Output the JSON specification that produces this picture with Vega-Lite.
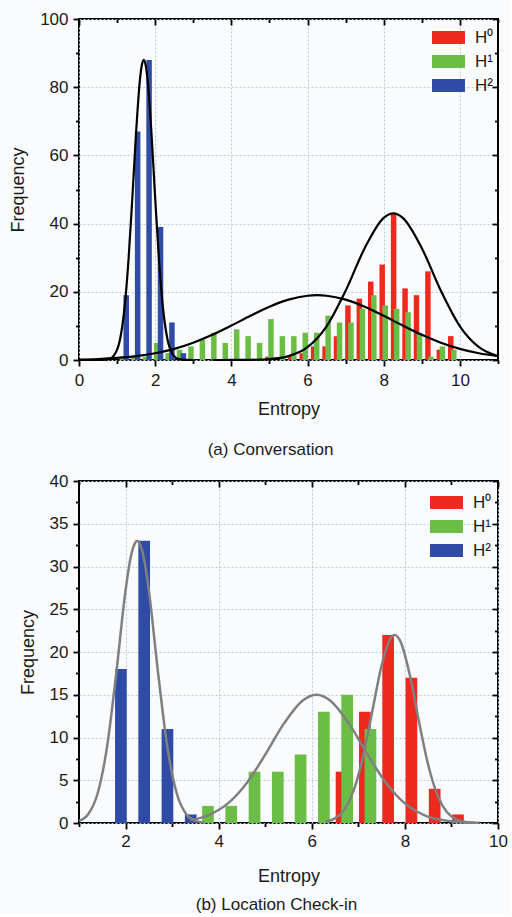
{
  "$schema": "https://vega.github.io/schema/vega-lite/v6.json",
  "background": "#fafbfd",
  "padding": {"left": 8, "top": 9, "right": 0, "bottom": 0},
  "bounds": "flush",
  "spacing": 121,
  "config": {
    "font": "Liberation Sans",
    "view": {"stroke": "#000000", "strokeWidth": 2},
    "scale": {"continuousPadding": 0},
    "axis": {
      "labelFont": "Liberation Sans", "labelFontSize": 17, "labelColor": "#1a1a1a", "labelFlush": false,
      "titleFont": "Liberation Sans", "titleFontSize": 18, "titleFontWeight": "normal", "titleColor": "#1a1a1a",
      "domain": false, "tickColor": "#000000", "tickWidth": 1.8, "tickSize": 6, "minExtent": 0,
      "gridColor": "#b9c9dc", "gridDash": [2, 2], "gridWidth": 1, "labelPadding": 5
    },
    "title": {"font": "Liberation Sans", "fontSize": 17, "fontWeight": "normal", "color": "#1a1a1a"},
    "legend": {
      "orient": "none", "labelFont": "Liberation Sans", "labelFontSize": 17, "labelColor": "#1a1a1a",
      "symbolType": "M-2,-0.8H2V0.8H-2Z", "symbolSize": 272, "symbolStrokeWidth": 0, "symbolOpacity": 1,
      "labelOffset": 18, "rowPadding": 6, "padding": 0, "title": null
    }
  },
  "datasets": {
    "top_bars": [
      {"series": "H⁰", "entropy": 4.96, "frequency": 1},
      {"series": "H⁰", "entropy": 5.56, "frequency": 1},
      {"series": "H⁰", "entropy": 5.86, "frequency": 2},
      {"series": "H⁰", "entropy": 6.16, "frequency": 4},
      {"series": "H⁰", "entropy": 6.46, "frequency": 4},
      {"series": "H⁰", "entropy": 6.76, "frequency": 7},
      {"series": "H⁰", "entropy": 7.06, "frequency": 16},
      {"series": "H⁰", "entropy": 7.36, "frequency": 18},
      {"series": "H⁰", "entropy": 7.66, "frequency": 23},
      {"series": "H⁰", "entropy": 7.96, "frequency": 28},
      {"series": "H⁰", "entropy": 8.26, "frequency": 43},
      {"series": "H⁰", "entropy": 8.56, "frequency": 21},
      {"series": "H⁰", "entropy": 8.86, "frequency": 19},
      {"series": "H⁰", "entropy": 9.16, "frequency": 26},
      {"series": "H⁰", "entropy": 9.46, "frequency": 3},
      {"series": "H⁰", "entropy": 9.76, "frequency": 7},
      {"series": "H¹", "entropy": 1.14, "frequency": 1},
      {"series": "H¹", "entropy": 1.44, "frequency": 1},
      {"series": "H¹", "entropy": 1.74, "frequency": 1},
      {"series": "H¹", "entropy": 2.04, "frequency": 5},
      {"series": "H¹", "entropy": 2.34, "frequency": 2},
      {"series": "H¹", "entropy": 2.64, "frequency": 3},
      {"series": "H¹", "entropy": 2.94, "frequency": 4},
      {"series": "H¹", "entropy": 3.24, "frequency": 6},
      {"series": "H¹", "entropy": 3.54, "frequency": 8},
      {"series": "H¹", "entropy": 3.84, "frequency": 5},
      {"series": "H¹", "entropy": 4.14, "frequency": 9},
      {"series": "H¹", "entropy": 4.44, "frequency": 7},
      {"series": "H¹", "entropy": 4.74, "frequency": 5},
      {"series": "H¹", "entropy": 5.04, "frequency": 12},
      {"series": "H¹", "entropy": 5.34, "frequency": 7},
      {"series": "H¹", "entropy": 5.64, "frequency": 7},
      {"series": "H¹", "entropy": 5.94, "frequency": 8},
      {"series": "H¹", "entropy": 6.24, "frequency": 8},
      {"series": "H¹", "entropy": 6.54, "frequency": 13},
      {"series": "H¹", "entropy": 6.84, "frequency": 11},
      {"series": "H¹", "entropy": 7.14, "frequency": 11},
      {"series": "H¹", "entropy": 7.44, "frequency": 15},
      {"series": "H¹", "entropy": 7.74, "frequency": 19},
      {"series": "H¹", "entropy": 8.04, "frequency": 16},
      {"series": "H¹", "entropy": 8.34, "frequency": 15},
      {"series": "H¹", "entropy": 8.64, "frequency": 14},
      {"series": "H¹", "entropy": 8.94, "frequency": 8},
      {"series": "H¹", "entropy": 9.24, "frequency": 1},
      {"series": "H¹", "entropy": 9.54, "frequency": 4},
      {"series": "H¹", "entropy": 9.84, "frequency": 3},
      {"series": "H²", "entropy": 1.24, "frequency": 19},
      {"series": "H²", "entropy": 1.54, "frequency": 67},
      {"series": "H²", "entropy": 1.84, "frequency": 88},
      {"series": "H²", "entropy": 2.14, "frequency": 39},
      {"series": "H²", "entropy": 2.44, "frequency": 11},
      {"series": "H²", "entropy": 2.74, "frequency": 2}
    ],
    "top_fit": [
      {"series": "H²", "entropy": 0, "frequency": 0},
      {"series": "H²", "entropy": 0.6, "frequency": 0.02},
      {"series": "H²", "entropy": 0.8, "frequency": 0.34},
      {"series": "H²", "entropy": 1.0, "frequency": 3.05},
      {"series": "H²", "entropy": 1.1, "frequency": 7.4},
      {"series": "H²", "entropy": 1.2, "frequency": 15.8},
      {"series": "H²", "entropy": 1.3, "frequency": 29.4},
      {"series": "H²", "entropy": 1.4, "frequency": 47.5},
      {"series": "H²", "entropy": 1.5, "frequency": 66.9},
      {"series": "H²", "entropy": 1.6, "frequency": 82.2},
      {"series": "H²", "entropy": 1.65, "frequency": 86.5},
      {"series": "H²", "entropy": 1.7, "frequency": 88},
      {"series": "H²", "entropy": 1.75, "frequency": 86.5},
      {"series": "H²", "entropy": 1.8, "frequency": 82.2},
      {"series": "H²", "entropy": 1.9, "frequency": 66.9},
      {"series": "H²", "entropy": 2.0, "frequency": 47.5},
      {"series": "H²", "entropy": 2.1, "frequency": 29.4},
      {"series": "H²", "entropy": 2.2, "frequency": 15.8},
      {"series": "H²", "entropy": 2.3, "frequency": 7.4},
      {"series": "H²", "entropy": 2.4, "frequency": 3.05},
      {"series": "H²", "entropy": 2.6, "frequency": 0.34},
      {"series": "H²", "entropy": 2.8, "frequency": 0.02},
      {"series": "H²", "entropy": 3.0, "frequency": 0},
      {"series": "H¹", "entropy": 0, "frequency": 0.14},
      {"series": "H¹", "entropy": 0.5, "frequency": 0.3},
      {"series": "H¹", "entropy": 1.0, "frequency": 0.61},
      {"series": "H¹", "entropy": 1.5, "frequency": 1.13},
      {"series": "H¹", "entropy": 2.0, "frequency": 1.99},
      {"series": "H¹", "entropy": 2.5, "frequency": 3.28},
      {"series": "H¹", "entropy": 3.0, "frequency": 5.08},
      {"series": "H¹", "entropy": 3.5, "frequency": 7.38},
      {"series": "H¹", "entropy": 4.0, "frequency": 10.09},
      {"series": "H¹", "entropy": 4.5, "frequency": 12.96},
      {"series": "H¹", "entropy": 5.0, "frequency": 15.63},
      {"series": "H¹", "entropy": 5.5, "frequency": 17.71},
      {"series": "H¹", "entropy": 6.0, "frequency": 18.85},
      {"series": "H¹", "entropy": 6.25, "frequency": 19},
      {"series": "H¹", "entropy": 6.5, "frequency": 18.85},
      {"series": "H¹", "entropy": 7.0, "frequency": 17.71},
      {"series": "H¹", "entropy": 7.5, "frequency": 15.63},
      {"series": "H¹", "entropy": 8.0, "frequency": 12.96},
      {"series": "H¹", "entropy": 8.5, "frequency": 10.09},
      {"series": "H¹", "entropy": 9.0, "frequency": 7.38},
      {"series": "H¹", "entropy": 9.5, "frequency": 5.08},
      {"series": "H¹", "entropy": 10.0, "frequency": 3.28},
      {"series": "H¹", "entropy": 10.5, "frequency": 1.99},
      {"series": "H¹", "entropy": 11.0, "frequency": 1.13},
      {"series": "H⁰", "entropy": 3.5, "frequency": 0},
      {"series": "H⁰", "entropy": 4.0, "frequency": 0.01},
      {"series": "H⁰", "entropy": 4.5, "frequency": 0.05},
      {"series": "H⁰", "entropy": 5.0, "frequency": 0.27},
      {"series": "H⁰", "entropy": 5.5, "frequency": 1.14},
      {"series": "H⁰", "entropy": 6.0, "frequency": 3.77},
      {"series": "H⁰", "entropy": 6.5, "frequency": 9.87},
      {"series": "H⁰", "entropy": 7.0, "frequency": 20.3},
      {"series": "H⁰", "entropy": 7.5, "frequency": 32.8},
      {"series": "H⁰", "entropy": 8.0, "frequency": 41.7},
      {"series": "H⁰", "entropy": 8.25, "frequency": 43},
      {"series": "H⁰", "entropy": 8.5, "frequency": 41.7},
      {"series": "H⁰", "entropy": 9.0, "frequency": 32.8},
      {"series": "H⁰", "entropy": 9.5, "frequency": 20.3},
      {"series": "H⁰", "entropy": 10.0, "frequency": 9.87},
      {"series": "H⁰", "entropy": 10.5, "frequency": 3.77},
      {"series": "H⁰", "entropy": 11.0, "frequency": 1.14}
    ],
    "bottom_bars": [
      {"series": "H⁰", "entropy": 6.64, "frequency": 6},
      {"series": "H⁰", "entropy": 7.14, "frequency": 13},
      {"series": "H⁰", "entropy": 7.64, "frequency": 22},
      {"series": "H⁰", "entropy": 8.14, "frequency": 17},
      {"series": "H⁰", "entropy": 8.64, "frequency": 4},
      {"series": "H⁰", "entropy": 9.14, "frequency": 1},
      {"series": "H¹", "entropy": 3.77, "frequency": 2},
      {"series": "H¹", "entropy": 4.27, "frequency": 2},
      {"series": "H¹", "entropy": 4.77, "frequency": 6},
      {"series": "H¹", "entropy": 5.27, "frequency": 6},
      {"series": "H¹", "entropy": 5.76, "frequency": 8},
      {"series": "H¹", "entropy": 6.26, "frequency": 13},
      {"series": "H¹", "entropy": 6.76, "frequency": 15},
      {"series": "H¹", "entropy": 7.26, "frequency": 11},
      {"series": "H²", "entropy": 1.9, "frequency": 18},
      {"series": "H²", "entropy": 2.4, "frequency": 33},
      {"series": "H²", "entropy": 2.9, "frequency": 11},
      {"series": "H²", "entropy": 3.4, "frequency": 1}
    ],
    "bottom_fit": [
      {"series": "H²", "entropy": 1.0, "frequency": 0.25},
      {"series": "H²", "entropy": 1.2, "frequency": 1.05},
      {"series": "H²", "entropy": 1.4, "frequency": 3.45},
      {"series": "H²", "entropy": 1.6, "frequency": 8.81},
      {"series": "H²", "entropy": 1.8, "frequency": 17.5},
      {"series": "H²", "entropy": 2.0, "frequency": 27.2},
      {"series": "H²", "entropy": 2.1, "frequency": 30.8},
      {"series": "H²", "entropy": 2.2, "frequency": 32.7},
      {"series": "H²", "entropy": 2.25, "frequency": 33},
      {"series": "H²", "entropy": 2.3, "frequency": 32.7},
      {"series": "H²", "entropy": 2.4, "frequency": 30.8},
      {"series": "H²", "entropy": 2.5, "frequency": 27.2},
      {"series": "H²", "entropy": 2.7, "frequency": 17.5},
      {"series": "H²", "entropy": 2.9, "frequency": 8.81},
      {"series": "H²", "entropy": 3.1, "frequency": 3.45},
      {"series": "H²", "entropy": 3.3, "frequency": 1.05},
      {"series": "H²", "entropy": 3.5, "frequency": 0.25},
      {"series": "H²", "entropy": 3.7, "frequency": 0.04},
      {"series": "H¹", "entropy": 3.4, "frequency": 0.34},
      {"series": "H¹", "entropy": 3.8, "frequency": 0.96},
      {"series": "H¹", "entropy": 4.2, "frequency": 2.29},
      {"series": "H¹", "entropy": 4.6, "frequency": 4.65},
      {"series": "H¹", "entropy": 5.0, "frequency": 7.99},
      {"series": "H¹", "entropy": 5.4, "frequency": 11.62},
      {"series": "H¹", "entropy": 5.8, "frequency": 14.31},
      {"series": "H¹", "entropy": 6.1, "frequency": 15},
      {"series": "H¹", "entropy": 6.4, "frequency": 14.31},
      {"series": "H¹", "entropy": 6.8, "frequency": 11.62},
      {"series": "H¹", "entropy": 7.2, "frequency": 7.99},
      {"series": "H¹", "entropy": 7.6, "frequency": 4.65},
      {"series": "H¹", "entropy": 8.0, "frequency": 2.29},
      {"series": "H¹", "entropy": 8.4, "frequency": 0.96},
      {"series": "H¹", "entropy": 8.8, "frequency": 0.34},
      {"series": "H¹", "entropy": 9.2, "frequency": 0.1},
      {"series": "H¹", "entropy": 9.6, "frequency": 0.03},
      {"series": "H⁰", "entropy": 6.3, "frequency": 0.15},
      {"series": "H⁰", "entropy": 6.5, "frequency": 0.54},
      {"series": "H⁰", "entropy": 6.7, "frequency": 1.57},
      {"series": "H⁰", "entropy": 6.9, "frequency": 3.81},
      {"series": "H⁰", "entropy": 7.1, "frequency": 7.73},
      {"series": "H⁰", "entropy": 7.3, "frequency": 13.07},
      {"series": "H⁰", "entropy": 7.5, "frequency": 18.42},
      {"series": "H⁰", "entropy": 7.7, "frequency": 21.68},
      {"series": "H⁰", "entropy": 7.78, "frequency": 22},
      {"series": "H⁰", "entropy": 7.9, "frequency": 21.3},
      {"series": "H⁰", "entropy": 8.1, "frequency": 17.45},
      {"series": "H⁰", "entropy": 8.3, "frequency": 11.93},
      {"series": "H⁰", "entropy": 8.5, "frequency": 6.81},
      {"series": "H⁰", "entropy": 8.7, "frequency": 3.24},
      {"series": "H⁰", "entropy": 8.9, "frequency": 1.29},
      {"series": "H⁰", "entropy": 9.1, "frequency": 0.43},
      {"series": "H⁰", "entropy": 9.3, "frequency": 0.12},
      {"series": "H⁰", "entropy": 9.5, "frequency": 0.02}
    ]
  },
  "resolve": {"legend": {"color": "independent"}},
  "vconcat": [
    {
      "width": 419, "height": 341,
      "title": {"text": "(a)   Conversation", "orient": "bottom", "offset": 24, "dx": -18},
      "resolve": {"axis": {"x": "independent", "y": "independent"}},
      "layer": [
        {
          "data": {"name": "top_bars"},
          "mark": {"type": "bar", "size": 5.5},
          "encoding": {
            "x": {"field": "entropy", "type": "quantitative", "scale": {"domain": [0, 11], "nice": false, "zero": false, "padding": 0},
                  "axis": {"orient": "bottom", "values": [0, 2, 4, 6, 8, 10], "grid": true, "title": "Entropy", "titlePadding": 12, "labelPadding": 6}},
            "y": {"field": "frequency", "type": "quantitative", "stack": null, "scale": {"domain": [0, 100], "nice": false, "padding": 0},
                  "axis": {"orient": "left", "values": [0, 20, 40, 60, 80, 100], "grid": true, "title": "Frequency", "titlePadding": 12.6}},
            "color": {"field": "series", "type": "nominal",
                      "scale": {"domain": ["H⁰", "H¹", "H²"], "range": ["#ee2a1f", "#6cbd45", "#2f4ba5"]},
                      "legend": {"legendX": 361, "legendY": 10}}
          }
        },
        {
          "data": {"name": "top_fit"},
          "mark": {"type": "line", "color": "#000000", "strokeWidth": 2.2, "interpolate": "monotone"},
          "encoding": {
            "x": {"field": "entropy", "type": "quantitative", "scale": {"domain": [0, 11], "nice": false, "zero": false, "padding": 0},
                  "axis": {"orient": "top", "values": [0, 2, 4, 6, 8, 10], "labels": false, "grid": false, "title": null, "tickSize": -6}},
            "y": {"field": "frequency", "type": "quantitative", "scale": {"domain": [0, 100], "nice": false, "padding": 0},
                  "axis": {"orient": "right", "values": [0, 20, 40, 60, 80, 100], "labels": false, "grid": false, "title": null, "tickSize": -6}},
            "detail": {"field": "series", "type": "nominal"}
          }
        },
        {
          "data": {"name": "top_bars"},
          "mark": {"type": "point", "opacity": 0},
          "encoding": {
            "x": {"field": "entropy", "type": "quantitative", "scale": {"domain": [0, 11], "nice": false, "zero": false, "padding": 0},
                  "axis": {"orient": "bottom", "values": [1, 3, 5, 7, 9, 11], "labels": false, "grid": false, "title": null, "tickSize": 3.5}},
            "y": {"field": "frequency", "type": "quantitative", "scale": {"domain": [0, 100], "nice": false, "padding": 0},
                  "axis": {"orient": "left", "values": [10, 30, 50, 70, 90], "labels": false, "grid": false, "title": null, "tickSize": 3.5}}
          }
        },
        {
          "data": {"name": "top_bars"},
          "mark": {"type": "point", "opacity": 0},
          "encoding": {
            "x": {"field": "entropy", "type": "quantitative", "scale": {"domain": [0, 11], "nice": false, "zero": false, "padding": 0},
                  "axis": {"orient": "top", "values": [1, 3, 5, 7, 9, 11], "labels": false, "grid": false, "title": null, "tickSize": -3.5}},
            "y": {"field": "frequency", "type": "quantitative", "scale": {"domain": [0, 100], "nice": false, "padding": 0},
                  "axis": {"orient": "right", "values": [10, 30, 50, 70, 90], "labels": false, "grid": false, "title": null, "tickSize": -3.5}}
          }
        }
      ]
    },
    {
      "width": 419, "height": 342,
      "title": {"text": "(b)   Location Check-in", "orient": "bottom", "offset": 12, "dx": -12},
      "resolve": {"axis": {"x": "independent", "y": "independent"}},
      "layer": [
        {
          "data": {"name": "bottom_bars"},
          "mark": {"type": "bar", "size": 11.7},
          "encoding": {
            "x": {"field": "entropy", "type": "quantitative", "scale": {"domain": [1, 10], "nice": false, "zero": false, "padding": 0},
                  "axis": {"orient": "bottom", "values": [2, 4, 6, 8, 10], "grid": true, "title": "Entropy", "titlePadding": 18, "labelPadding": 4}},
            "y": {"field": "frequency", "type": "quantitative", "stack": null, "scale": {"domain": [0, 40], "nice": false, "padding": 0},
                  "axis": {"orient": "left", "values": [0, 5, 10, 15, 20, 25, 30, 35, 40], "grid": true, "title": "Frequency", "titlePadding": 12}},
            "color": {"field": "series", "type": "nominal",
                      "scale": {"domain": ["H⁰", "H¹", "H²"], "range": ["#ee2a1f", "#6cbd45", "#2f4ba5"]},
                      "legend": {"legendX": 359, "legendY": 13}}
          }
        },
        {
          "data": {"name": "bottom_fit"},
          "mark": {"type": "line", "color": "#808080", "strokeWidth": 2.5, "interpolate": "monotone"},
          "encoding": {
            "x": {"field": "entropy", "type": "quantitative", "scale": {"domain": [1, 10], "nice": false, "zero": false, "padding": 0},
                  "axis": {"orient": "top", "values": [2, 4, 6, 8, 10], "labels": false, "grid": false, "title": null, "tickSize": -6}},
            "y": {"field": "frequency", "type": "quantitative", "scale": {"domain": [0, 40], "nice": false, "padding": 0},
                  "axis": {"orient": "right", "values": [0, 5, 10, 15, 20, 25, 30, 35, 40], "labels": false, "grid": false, "title": null, "tickSize": -6}},
            "detail": {"field": "series", "type": "nominal"}
          }
        },
        {
          "data": {"name": "bottom_bars"},
          "mark": {"type": "point", "opacity": 0},
          "encoding": {
            "x": {"field": "entropy", "type": "quantitative", "scale": {"domain": [1, 10], "nice": false, "zero": false, "padding": 0},
                  "axis": {"orient": "bottom", "values": [1, 3, 5, 7, 9], "labels": false, "grid": false, "title": null, "tickSize": 3.5}},
            "y": {"field": "frequency", "type": "quantitative", "scale": {"domain": [0, 40], "nice": false, "padding": 0},
                  "axis": {"orient": "left", "values": [2.5, 7.5, 12.5, 17.5, 22.5, 27.5, 32.5, 37.5], "labels": false, "grid": false, "title": null, "tickSize": 3.5}}
          }
        },
        {
          "data": {"name": "bottom_bars"},
          "mark": {"type": "point", "opacity": 0},
          "encoding": {
            "x": {"field": "entropy", "type": "quantitative", "scale": {"domain": [1, 10], "nice": false, "zero": false, "padding": 0},
                  "axis": {"orient": "top", "values": [1, 3, 5, 7, 9], "labels": false, "grid": false, "title": null, "tickSize": -3.5}},
            "y": {"field": "frequency", "type": "quantitative", "scale": {"domain": [0, 40], "nice": false, "padding": 0},
                  "axis": {"orient": "right", "values": [2.5, 7.5, 12.5, 17.5, 22.5, 27.5, 32.5, 37.5], "labels": false, "grid": false, "title": null, "tickSize": -3.5}}
          }
        }
      ]
    }
  ]
}
